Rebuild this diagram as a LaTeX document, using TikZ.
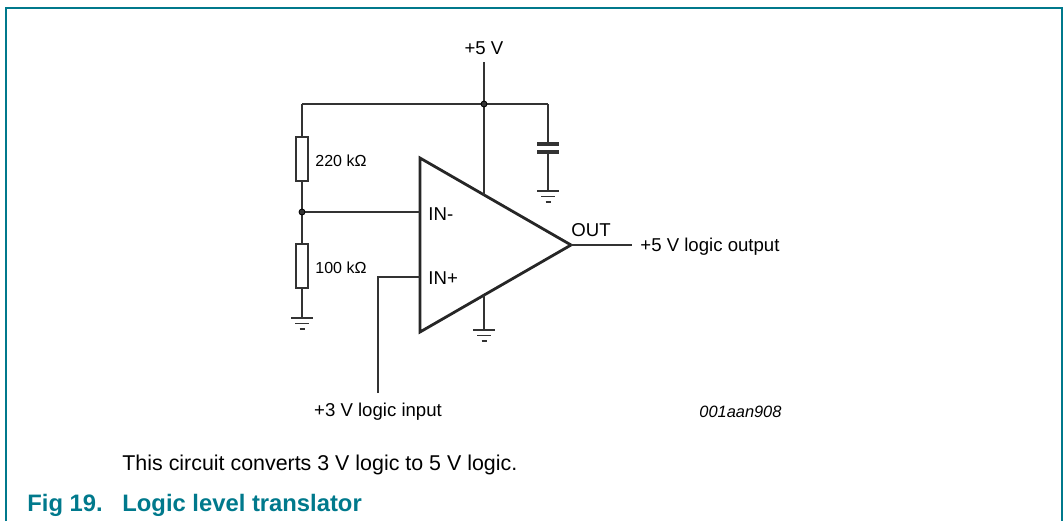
\documentclass[tikz,border=0pt]{standalone}
\usepackage{fontspec}
\setmainfont{Liberation Sans}
\usepackage{xcolor}
\usepackage{tikz}
\usetikzlibrary{calc}

\definecolor{nxpteal}{RGB}{0,121,140}
\definecolor{wire}{gray}{0.2}

\tikzset{
  lbl/.style={inner sep=0pt,font=\fontsize{9.3}{11}\selectfont},
  small/.style={inner sep=0pt,font=\fontsize{8}{10}\selectfont},
  res/.style={draw=wire,line width=0.8pt,fill=white,minimum width=6pt,minimum height=22pt,inner sep=0pt},
  gnd/.pic={
    \draw[wire,line width=0.8pt] (-11,0) -- (11,0);
    \draw[wire,line width=0.8pt] (-7,5.5) -- (7,5.5);
    \draw[wire,line width=1pt] (-2.5,11) -- (2.5,11);
  }
}

\begin{document}
\begin{tikzpicture}[x=0.5pt,y=-0.5pt]
\useasboundingbox (0,0) rectangle (1064,521);
% frame
\draw[nxpteal,line width=1pt] (6,521) -- (6,8) -- (1062,8) -- (1062,521);

% opamp
\coordinate (ul) at (420,158);
\coordinate (ll) at (420,332);
\coordinate (out) at (571,245);
\draw[black!85,line width=1.4pt,line join=miter] (ul) -- (out) -- (ll) -- cycle;
\coordinate (vp) at ($(ul)!64/151!(out)$);
\coordinate (vn) at ($(ll)!64/151!(out)$);
\coordinate (inm) at (420,212);
\coordinate (inp) at (420,277);
	\node[lbl,anchor=base west] at (428,220) {IN-};
	\node[lbl,anchor=base west] at (428,284) {IN+};
	\node[lbl,anchor=base west] at (571,236) {OUT};

% supply
\coordinate (vcc) at (484,62);
\coordinate (jtop) at (484,104);
\coordinate (tl) at (302,104);
\coordinate (tr) at (548,104);
	\node[lbl,anchor=base] at (484,54) {+5 V};
\draw[wire,line width=0.8pt] (vcc) -- (vp);
\draw[wire,line width=0.8pt] (tl) -- (tr);
\draw[fill=wire] (jtop) circle [radius=3];

% capacitor
\draw[wire,line width=0.8pt] (tr) -- (548,143);
\draw[wire,line width=1.6pt] (537,144) -- (559,144);
\draw[wire,line width=1.6pt] (537,152) -- (559,152);
\draw[wire,line width=0.8pt] (548,153) -- (548,191);
\pic at (548,191) {gnd};

% divider
\node[res] (r1) at (302,159) {};
\node[res] (r2) at (302,266) {};
	\node[small,anchor=base west] at (315,166) {220 kΩ};
	\node[small,anchor=base west] at (315,273) {100 kΩ};
\coordinate (jmid) at (302,212);
\draw[wire,line width=0.8pt] (tl) -- (r1.north);
\draw[wire,line width=0.8pt] (r1.south) -- (r2.north);
\draw[wire,line width=0.8pt] (jmid) -- (inm);
\draw[fill=wire] (jmid) circle [radius=3];
\draw[wire,line width=0.8pt] (r2.south) -- (302,318);
\pic at (302,318) {gnd};

% input
\coordinate (inx) at (378,393);
\draw[wire,line width=0.8pt] (inx) |- (inp);
	\node[lbl,anchor=base] at (378,416) {+3 V logic input};

% opamp ground
\draw[wire,line width=0.8pt] (vn) -- (484,330);
\pic at (484,330) {gnd};

% output
\coordinate (outx) at (632,245);
\draw[wire,line width=0.8pt] (out) -- (outx);
	\node[lbl,anchor=base west] at (640,251) {+5 V logic output};

	\node[small,anchor=base west] at (699,417) {\fontsize{8.2}{10}\itshape 001aan908};

% caption
	\node[inner sep=0pt,anchor=base west,font=\fontsize{10.7}{13}\selectfont] at (122,470.5) {This circuit converts 3 V logic to 5 V logic.};
	\node[inner sep=0pt,anchor=base west,text=nxpteal,font=\fontsize{11.9}{14}\selectfont\bfseries] at (27,511.5) {Fig 19.};
	\node[inner sep=0pt,anchor=base west,text=nxpteal,font=\fontsize{11.9}{14}\selectfont\bfseries] at (122,511.5) {Logic level translator};
\end{tikzpicture}
\end{document}
